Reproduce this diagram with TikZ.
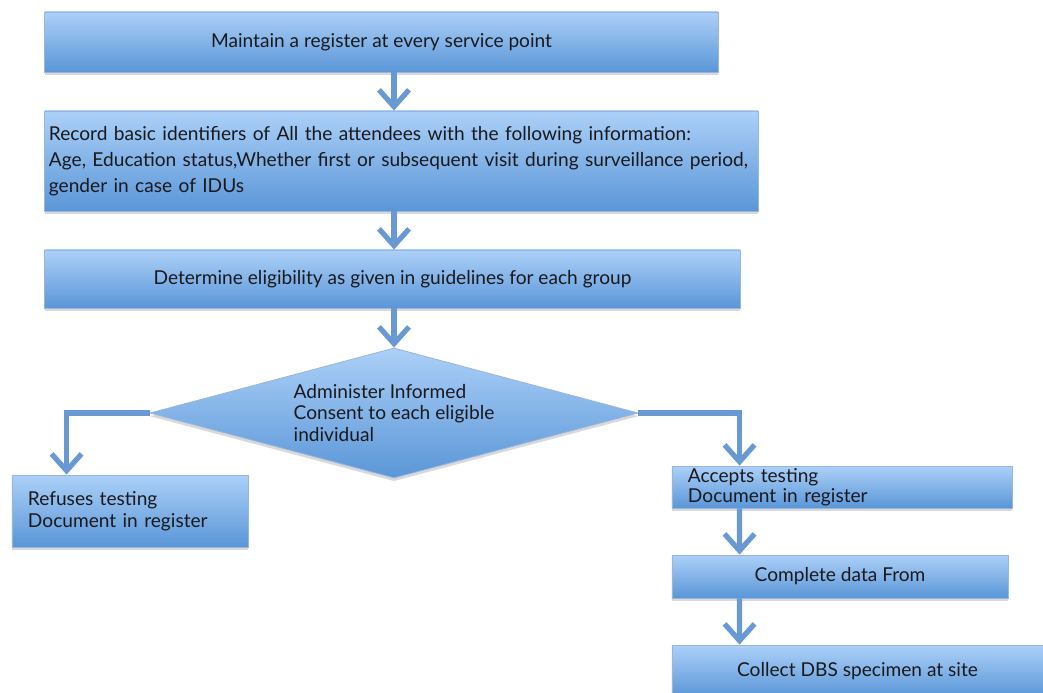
\documentclass[tikz,border=0pt]{standalone}
\usepackage{fontspec}
\setmainfont{Lato}
\usetikzlibrary{shapes.geometric,shadows,arrows.meta}
\definecolor{boxtop}{RGB}{172,208,248}
\definecolor{boxbottom}{RGB}{90,150,215}
\definecolor{boxline}{RGB}{150,182,222}
\definecolor{flowblue}{RGB}{104,153,211}
\definecolor{boxtext}{RGB}{25,25,30}
\tikzstyle{node:box}=[rectangle,draw=boxline,line width=0.6pt,top color=boxtop,bottom color=boxbottom,drop shadow={shadow xshift=0pt,shadow yshift=-0.08cm,opacity=0.3},text=boxtext,font=\fontsize{13.6}{16}\selectfont,inner sep=0pt]
\tikzstyle{node:leftbox}=[node:box,align=left,inner xsep=0.4cm]
\tikzstyle{node:decision}=[diamond,aspect=3.75,draw=boxline,line width=0.6pt,top color=boxtop,bottom color=boxbottom,drop shadow={shadow xshift=0pt,shadow yshift=-0.08cm,opacity=0.3},text=boxtext,font=\fontsize{13.6}{15.6}\selectfont,align=left,inner sep=0pt]
\tikzstyle{draw:flow}=[-{Straight Barb[length=0.42cm,width=0.75cm]},line width=0.13cm,flowblue]

\begin{document}
\begin{tikzpicture}[x=0.025cm,y=-0.025cm]
  \useasboundingbox (0,0) rectangle (1043,692);

  % Main column
  \node[node:box,minimum width=16.825cm,minimum height=1.5cm] (maintain) at (381.5,42) {Maintain a register at every service point};
  \node[node:box,minimum width=17.825cm,minimum height=2.5cm,text width=17.625cm,align=left,inner xsep=0.1cm,font=\fontsize{13.6}{18.5}\selectfont] (record) at (401.5,161) {Record basic identifiers of All the attendees with the following information:\\Age, Education status,Whether first or subsequent visit during surveillance period,\\gender in case of IDUs};
  \node[node:box,minimum width=17.375cm,minimum height=1.45cm] (eligible) at (392.5,279) {Determine eligibility as given in guidelines for each group};

  % Decision
  \node[node:decision,minimum width=12.2cm,minimum height=3.25cm] (consent) at (394,413) {Administer Informed\\Consent to each eligible\\individual};

  % Refuses branch
  \node[node:leftbox,minimum width=5.9cm,minimum height=1.8cm,text width=5.1cm,font=\fontsize{13.6}{15.6}\selectfont] (refuses) at (130,511) {Refuses testing\\Document in register};

  % Accepts branch
  \node[node:leftbox,minimum width=8.5cm,minimum height=1.05cm,text width=7.7cm,font=\fontsize{13.6}{14.2}\selectfont] (accepts) at (842,487) {Accepts testing\\Document in register};
  \node[node:box,minimum width=8.4cm,minimum height=1.075cm] (complete) at (840,576.5) {Complete data From};
  \node[node:box,minimum width=9.275cm,minimum height=1.3cm] (collect) at (857.5,671) {Collect DBS specimen at site};

  % Connections
  \draw[draw:flow] (maintain.south -| consent.north) -- (record.north -| consent.north);
  \draw[draw:flow] (record.south -| consent.north) -- (eligible.north -| consent.north);
  \draw[draw:flow] (eligible.south -| consent.north) -- (consent.north);
  \draw[draw:flow] (consent.west) -| ([xshift=1.375cm]refuses.north west);
  \draw[draw:flow] (consent.east) -| ([xshift=1.7cm]accepts.north west);
  \draw[draw:flow] ([xshift=1.7cm]accepts.south west) -- ([xshift=1.7cm]complete.north west);
  \draw[draw:flow] ([xshift=1.7cm]complete.south west) -- ([xshift=1.7cm]collect.north west);

\end{tikzpicture}
\end{document}
